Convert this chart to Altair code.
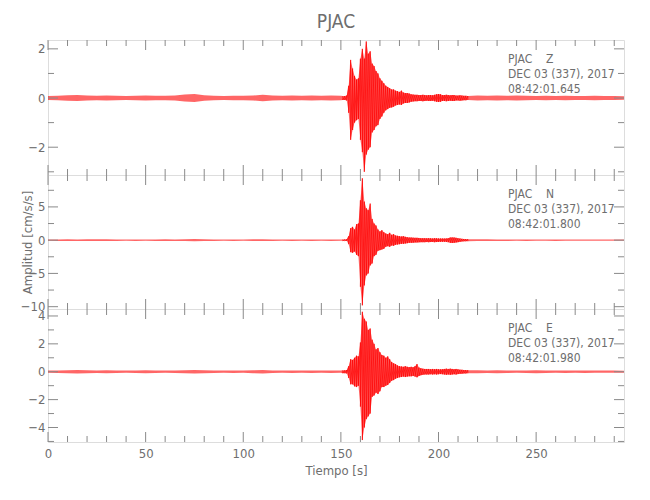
import altair as alt
import pandas as pd

# ---------------- data ----------------
T_PRE = list(range(0, 151, 5))          # 0..150 s, coarse noise envelope
T_EVT = list(range(151, 216))           # 151..215 s, event envelope (1 s)
T_POST = list(range(220, 296, 5))       # 220..295 s, coarse noise envelope

# Z component
Z_PRE = [0.08, 0.09, 0.11, 0.12, 0.10, 0.09, 0.10, 0.09, 0.08, 0.09, 0.10,
         0.09, 0.09, 0.10, 0.14, 0.16, 0.11, 0.09, 0.08, 0.09, 0.09, 0.10,
         0.13, 0.10, 0.09, 0.10, 0.09, 0.10, 0.09, 0.10, 0.09]
Z_HI = [0.08, 0.08, 0.10, 0.50, 1.55, 1.20, 0.90, 0.75, 0.80, 1.60, 2.00,
        1.60, 2.30, 1.80, 1.90, 1.40, 1.30, 1.10, 1.00, 0.80, 0.70, 0.60,
        0.50, 0.45, 0.40, 0.35, 0.35, 0.30, 0.28, 0.25, 0.30, 0.22, 0.20,
        0.20, 0.18, 0.15, 0.14, 0.13, 0.13, 0.12, 0.12, 0.13, 0.12, 0.11,
        0.12, 0.12, 0.11, 0.13, 0.15, 0.16, 0.15, 0.12, 0.12, 0.13, 0.12,
        0.11, 0.12, 0.12, 0.10, 0.10, 0.11, 0.10, 0.09, 0.09, 0.08]
Z_LO = [-0.08, -0.08, -0.10, -0.60, -1.70, -1.30, -1.00, -0.90, -0.85, -1.70,
        -2.20, -3.00, -2.30, -2.10, -2.00, -1.40, -1.30, -1.15, -1.10, -0.85,
        -0.75, -0.60, -0.50, -0.45, -0.40, -0.38, -0.35, -0.30, -0.28, -0.26,
        -0.28, -0.22, -0.20, -0.20, -0.18, -0.15, -0.14, -0.13, -0.13, -0.12,
        -0.12, -0.13, -0.12, -0.11, -0.12, -0.12, -0.11, -0.13, -0.15, -0.16,
        -0.15, -0.12, -0.12, -0.13, -0.12, -0.11, -0.12, -0.12, -0.10, -0.10,
        -0.11, -0.10, -0.09, -0.09, -0.08]
Z_POST = [0.10, 0.09, 0.10, 0.09, 0.10, 0.09, 0.08, 0.09, 0.08, 0.09, 0.08,
          0.08, 0.09, 0.08, 0.08, 0.07]

# N component
N_PRE = [0.10, 0.11, 0.12, 0.11, 0.12, 0.14, 0.12, 0.11, 0.10, 0.11, 0.10,
         0.11, 0.12, 0.11, 0.14, 0.17, 0.13, 0.11, 0.10, 0.11, 0.10, 0.12,
         0.14, 0.11, 0.10, 0.11, 0.10, 0.11, 0.10, 0.11, 0.10]
N_HI = [0.10, 0.10, 0.12, 0.60, 1.80, 2.00, 1.60, 2.40, 2.50, 6.00, 9.30,
        5.80, 4.80, 4.50, 5.50, 3.20, 2.50, 2.20, 1.60, 1.30, 1.50, 1.20,
        1.00, 0.90, 1.10, 0.80, 0.90, 0.70, 0.65, 0.60, 0.55, 0.60, 0.50,
        0.45, 0.40, 0.40, 0.38, 0.35, 0.35, 0.33, 0.30, 0.30, 0.30, 0.28,
        0.30, 0.28, 0.26, 0.30, 0.28, 0.26, 0.25, 0.25, 0.24, 0.26, 0.30,
        0.40, 0.42, 0.40, 0.35, 0.30, 0.25, 0.20, 0.18, 0.16, 0.15]
N_LO = [-0.10, -0.10, -0.12, -0.60, -1.80, -1.90, -1.70, -2.20, -2.40, -7.00,
        -9.80, -6.80, -5.30, -5.00, -3.80, -3.50, -2.40, -2.20, -1.60, -1.50,
        -1.40, -1.30, -1.00, -0.90, -1.00, -0.80, -0.85, -0.70, -0.65, -0.60,
        -0.55, -0.55, -0.50, -0.45, -0.40, -0.40, -0.38, -0.35, -0.35, -0.33,
        -0.30, -0.30, -0.30, -0.28, -0.30, -0.28, -0.26, -0.30, -0.28, -0.26,
        -0.25, -0.25, -0.24, -0.26, -0.30, -0.40, -0.42, -0.40, -0.35, -0.30,
        -0.25, -0.20, -0.18, -0.16, -0.15]
N_POST = [0.13, 0.12, 0.11, 0.11, 0.10, 0.11, 0.10, 0.10, 0.11, 0.10, 0.10,
          0.10, 0.10, 0.10, 0.10, 0.10]

# E component
E_PRE = [0.08, 0.09, 0.10, 0.13, 0.10, 0.09, 0.10, 0.09, 0.08, 0.09, 0.10,
         0.09, 0.08, 0.09, 0.10, 0.13, 0.10, 0.09, 0.08, 0.09, 0.08, 0.10,
         0.13, 0.09, 0.08, 0.09, 0.08, 0.09, 0.08, 0.09, 0.08]
E_HI = [0.10, 0.10, 0.12, 0.40, 0.90, 0.85, 1.00, 1.15, 1.10, 2.10, 4.30,
        3.80, 3.60, 3.00, 3.10, 2.30, 2.00, 1.60, 1.70, 1.40, 1.20, 1.15,
        1.00, 1.10, 0.90, 0.70, 0.60, 0.55, 0.45, 0.40, 0.38, 0.35, 0.40,
        0.35, 0.33, 0.35, 0.32, 0.40, 0.55, 0.30, 0.25, 0.22, 0.20, 0.20,
        0.20, 0.18, 0.20, 0.18, 0.20, 0.18, 0.17, 0.18, 0.20, 0.22, 0.20,
        0.22, 0.20, 0.18, 0.20, 0.17, 0.15, 0.14, 0.12, 0.12, 0.11]
E_LO = [-0.10, -0.10, -0.12, -0.45, -0.90, -0.90, -1.05, -1.10, -1.00, -2.50,
        -4.90, -4.00, -3.40, -3.20, -3.00, -1.80, -1.70, -1.50, -1.60, -1.40,
        -1.10, -1.10, -1.00, -0.95, -0.80, -0.65, -0.60, -0.50, -0.45, -0.40,
        -0.38, -0.35, -0.38, -0.35, -0.33, -0.33, -0.30, -0.35, -0.40, -0.30,
        -0.25, -0.22, -0.20, -0.20, -0.20, -0.18, -0.20, -0.18, -0.20, -0.18,
        -0.17, -0.18, -0.20, -0.22, -0.20, -0.22, -0.20, -0.18, -0.20, -0.17,
        -0.15, -0.14, -0.12, -0.12, -0.11]
E_POST = [0.10, 0.09, 0.10, 0.09, 0.08, 0.09, 0.10, 0.09, 0.08, 0.09, 0.08,
          0.09, 0.08, 0.08, 0.08, 0.07]

X_MAJOR = [0, 50, 100, 150, 200, 250]
X_MINOR = [10, 20, 30, 40, 60, 70, 80, 90, 110, 120, 130, 140, 160, 170, 180,
           190, 210, 220, 230, 240, 260, 270, 280, 290]

Z_LABELS = [-2, 0, 2]
Z_MINOR = [-3, -1, 1]
N_LABELS = [-10, -5, 0, 5]
N_MINOR = [-7.5, -2.5, 2.5, 7.5]
E_LABELS = [-4, -2, 0, 2, 4]
E_MINOR = [-5, -3, -1, 1, 3]

Z_DOMAIN = [-3.13, 2.36]
N_DOMAIN = [-10.35, 9.8]
E_DOMAIN = [-5.04, 4.5]
X_DOMAIN = [0, 295]

STATION = "PJAC"
COMPONENTS = ["Z", "N", "E"]
DATE_LINE = "DEC 03 (337), 2017"
START_TIMES = ["08:42:01.645", "08:42:01.800", "08:42:01.980"]

# ---------------- styling ----------------
W = 576
HEIGHTS = [135, 134, 133]
AX = "#8a8a8a"
TXT = "#6e6e6e"
FONT = "Liberation Sans Narrow, DejaVu Sans Condensed, Roboto"
RED = "#ff0000"
TL_MAJ = 10
TL_MIN = 6
NBSP = "\u00a0"


def trace_tables(pre, hi, lo, post):
    """Envelope table (t, hi, lo) and the event peaks as one ordered trace."""
    rows = []
    for t, a in zip(T_PRE, pre):
        rows.append((t, a, -a))
    for t, h, l in zip(T_EVT, hi, lo):
        rows.append((t, h, l))
    for t, a in zip(T_POST, post):
        rows.append((t, a, -a))
    env = pd.DataFrame(rows, columns=["t", "hi", "lo"])
    pts = []
    for i, (t, h, l) in enumerate(zip(T_EVT, hi, lo)):
        pts.append((t, h, 2 * i))
        pts.append((t, l, 2 * i + 1))
    trace = pd.DataFrame(pts, columns=["t", "hi", "k"])
    return env, trace


def panel(tables, domain, labels, minor, h, comp, start, bottom=False, ytitle=None):
    env, trace = tables
    xs = alt.Scale(domain=X_DOMAIN, nice=False, zero=False)
    ys = alt.Scale(domain=domain, nice=False, zero=False)
    if bottom:
        xaxis = alt.Axis(values=X_MAJOR, ticks=False, domain=False, grid=False,
                         labelColor=TXT, labelFont=FONT, labelFontSize=13,
                         labelPadding=5, labelFlush=False, title="Tiempo [s]",
                         titleColor=TXT, titleFont=FONT, titleFontSize=13,
                         titleFontWeight="normal", titlePadding=4)
    else:
        xaxis = None
    yaxis_kw = dict(values=labels, ticks=False, domain=False, grid=False,
                    labelColor=TXT, labelFont=FONT, labelFontSize=13,
                    labelPadding=3, labelOverlap=False, labelFlush=False,
                    title=ytitle)
    if ytitle:
        yaxis_kw.update(titleColor=TXT, titleFont=FONT, titleFontSize=13,
                        titleFontWeight="normal", titleX=-14, titleY=h / 2)
    yaxis = alt.Axis(**yaxis_kw)

    X = lambda: alt.X("t:Q", scale=xs, axis=xaxis)
    Y = lambda: alt.Y("hi:Q", scale=ys, axis=yaxis)

    band = alt.Chart(env).mark_area(color=RED, opacity=0.6, clip=True,
                                    interpolate="linear").encode(
        x=X(), y=Y(), y2="lo:Q")
    line = alt.Chart(trace).mark_line(color=RED, strokeWidth=0.8, opacity=0.9,
                                      clip=True).encode(
        x=X(), y=Y(), order="k:Q")

    layers = [band, line]
    # x ticks (inward, top and bottom)
    for vals, tl in ((X_MAJOR, TL_MAJ), (X_MINOR, TL_MIN)):
        d = pd.DataFrame({"t": vals})
        layers.append(alt.Chart(d).mark_rule(color=AX, strokeWidth=1).encode(
            x=X(), y=alt.value(0), y2=alt.value(tl)))
        layers.append(alt.Chart(d).mark_rule(color=AX, strokeWidth=1).encode(
            x=X(), y=alt.value(h), y2=alt.value(h - tl)))
    # y ticks (inward, left and right)
    for vals, tl in ((labels, TL_MAJ), (minor, TL_MIN)):
        d = pd.DataFrame({"hi": vals})
        layers.append(alt.Chart(d).mark_rule(color=AX, strokeWidth=1).encode(
            y=Y(), x=alt.value(0), x2=alt.value(tl)))
        layers.append(alt.Chart(d).mark_rule(color=AX, strokeWidth=1).encode(
            y=Y(), x=alt.value(W), x2=alt.value(W - tl)))
    # annotation
    ann = pd.DataFrame({"k": [0]})
    layers.append(alt.Chart(ann).mark_text(
        text=[f"{STATION}{NBSP * 4}{comp}", DATE_LINE, start], align="left",
        baseline="top", font=FONT, fontSize=12, lineHeight=15, color=TXT
    ).encode(x=alt.value(460), y=alt.value(14)))

    return alt.layer(*layers).properties(width=W, height=h)


tz = trace_tables(Z_PRE, Z_HI, Z_LO, Z_POST)
tn = trace_tables(N_PRE, N_HI, N_LO, N_POST)
te = trace_tables(E_PRE, E_HI, E_LO, E_POST)

pz = panel(tz, Z_DOMAIN, Z_LABELS, Z_MINOR, HEIGHTS[0], COMPONENTS[0], START_TIMES[0])
pz = pz.properties(title=alt.TitleParams(STATION, font=FONT, fontSize=19,
                                         fontWeight="normal", color=TXT,
                                         anchor="middle", frame="group", offset=8))
pn = panel(tn, N_DOMAIN, N_LABELS, N_MINOR, HEIGHTS[1], COMPONENTS[1], START_TIMES[1],
           ytitle="Amplitud [cm/s/s]")
pe = panel(te, E_DOMAIN, E_LABELS, E_MINOR, HEIGHTS[2], COMPONENTS[2], START_TIMES[2],
           bottom=True)

chart = alt.vconcat(pz, pn, pe, spacing=0, bounds="flush").properties(
    padding={"left": 11, "top": 4, "right": 5, "bottom": 5}
).configure_view(stroke=AX, strokeWidth=1).configure(background="white")

chart.save("out.html", embed_options={"renderer": "svg", "actions": False})
